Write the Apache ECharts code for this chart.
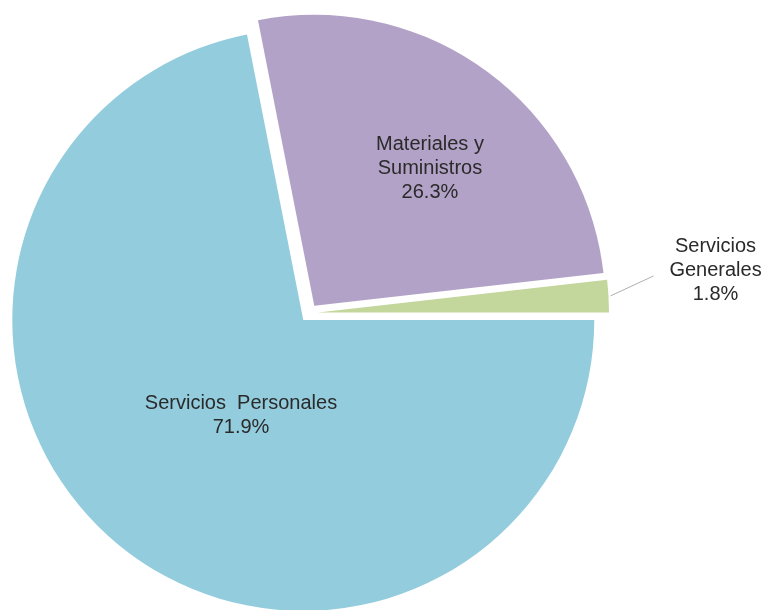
<!DOCTYPE html>
<html>
<head>
<meta charset="utf-8">
<script src="https://cdn.jsdelivr.net/npm/echarts@6/dist/echarts.min.js"></script>
<style>
html,body{margin:0;padding:0;background:#fff;}
#chart{width:767px;height:610px;}
</style>
</head>
<body>
<div id="chart"></div>
<script>
// Data
var categories = ['Servicios Personales', 'Materiales y Suministros', 'Servicios Generales'];
var labelTexts = ['Servicios  Personales', 'Materiales y\nSuministros', 'Servicios\nGenerales'];
var values = [71.9, 26.3, 1.8];

// Styles
var colors = ['#93CDDD', '#B3A2C7', '#C3D69B'];
var labelShift = [[32, -19], [28, -17]];
var leader = {gap: 2, dx: 43, dy: -20, textDx: 62, textDy: -5};
var CENTER = [309, 313], RADIUS = 291, OFFSET = 9;
var FONT_FAMILY = 'Liberation Sans, Arial, sans-serif';
var TEXT_COLOR = '#2a2a2a';

var chart = echarts.init(document.getElementById('chart'), null, {renderer: 'canvas'});

var data = categories.map(function (name, i) {
  var item = {
    name: name,
    value: values[i],
    selected: true,
    itemStyle: {color: colors[i]}
  };
  if (i === 2) {
    item.label = {show: false};
  }
  return item;
});

chart.setOption({
  animation: false,
  backgroundColor: '#ffffff',
  series: [{
    type: 'pie',
    center: CENTER,
    radius: RADIUS,
    startAngle: 0,
    clockwise: true,
    selectedMode: 'multiple',
    selectedOffset: OFFSET,
    avoidLabelOverlap: false,
    emphasis: {disabled: true},
    select: {itemStyle: {borderWidth: 0}},
    itemStyle: {borderWidth: 0},
    label: {
      show: true,
      position: 'inside',
      fontFamily: FONT_FAMILY,
      fontSize: 20,
      lineHeight: 24,
      color: TEXT_COLOR,
      align: 'center',
      formatter: function (p) {
        return labelTexts[p.dataIndex] + '\n' + p.value.toFixed(1) + '%';
      }
    },
    labelLine: {show: false},
    labelLayout: function (p) {
      var i = p.dataIndex;
      if (i < 2) return {dx: labelShift[i][0], dy: labelShift[i][1]};
      return {};
    },
    data: data
  }]
});

// Outside label for the small slice, anchored to the library's computed sector layout
(function () {
  var idx = 2;
  var cx, cy, r, mid;
  try {
    var lay = chart.getModel().getSeriesByIndex(0).getData().getItemLayout(idx);
    cx = lay.cx; cy = lay.cy; r = lay.r;
    mid = (lay.startAngle + lay.endAngle) / 2;
  } catch (e) {
    var total = values.reduce(function (a, b) { return a + b; }, 0);
    var before = 0;
    for (var k = 0; k < idx; k++) before += values[k];
    var midFrac = (before + values[idx] / 2) / total;
    mid = midFrac * Math.PI * 2;
    cx = CENTER[0]; cy = CENTER[1]; r = RADIUS;
  }
  var rr = r + OFFSET + leader.gap;
  var ax = cx + rr * Math.cos(mid);
  var ay = cy + rr * Math.sin(mid);
  var bx = ax + leader.dx, by = ay + leader.dy;
  chart.setOption({
    graphic: [
      {
        type: 'polyline',
        silent: true,
        shape: {points: [[ax, ay], [bx, by]]},
        style: {stroke: '#b0b0b0', lineWidth: 1, fill: null}
      },
      {
        type: 'text',
        silent: true,
        x: bx + leader.textDx,
        y: by + leader.textDy,
        style: {
          text: labelTexts[idx] + '\n' + values[idx].toFixed(1) + '%',
          fontFamily: FONT_FAMILY,
          fontSize: 20,
          lineHeight: 24,
          fill: TEXT_COLOR,
          align: 'center',
          verticalAlign: 'middle'
        }
      }
    ]
  });
})();
</script>
</body>
</html>
